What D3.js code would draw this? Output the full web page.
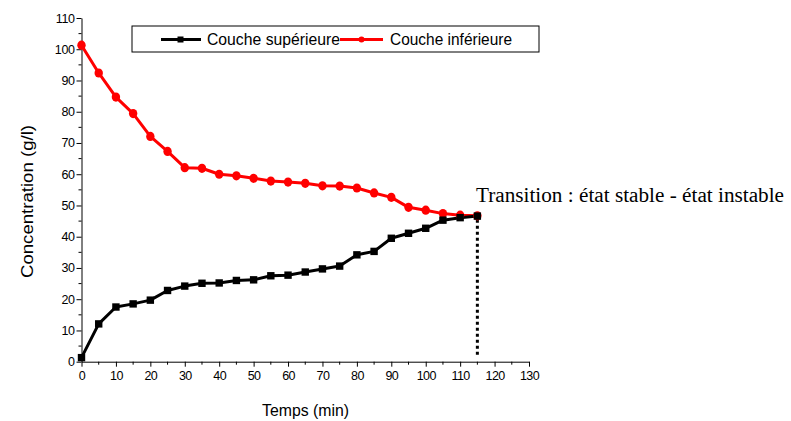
<!DOCTYPE html>
<html>
<head>
<meta charset="utf-8">
<script src="https://cdn.jsdelivr.net/npm/d3@7"></script>
<style>
html,body{margin:0;padding:0;background:#fff;}
svg{display:block;}
text{font-family:"Liberation Sans",Arial,sans-serif;fill:#000;}
text.serif{font-family:"Liberation Serif","Times New Roman",serif;}
</style>
</head>
<body>
<svg id="chart" width="791" height="421"></svg>
<script>
const times = [0,5,10,15,20,25,30,35,40,45,50,55,60,65,70,75,80,85,90,95,100,105,110,115];
const superieure = [1.3,12.1,17.5,18.5,19.7,22.8,24.2,25.1,25.2,26.0,26.2,27.5,27.7,28.7,29.7,30.6,34.2,35.3,39.5,41.1,42.7,45.3,46.1,46.6];
const inferieure = [101.3,92.4,84.7,79.4,72.1,67.3,62.1,61.9,60.0,59.5,58.7,57.8,57.5,57.1,56.3,56.2,55.6,54.0,52.6,49.4,48.5,47.4,46.9,46.7];
const xTicks = [0,10,20,30,40,50,60,70,80,90,100,110,120,130];
const yTicks = [0,10,20,30,40,50,60,70,80,90,100,110];
const seriesNames = ["Couche supérieure","Couche inférieure"];
const transitionTime = 115;
const annotation = "Transition : état stable - état instable";

const svg = d3.select("#chart");
const x = d3.scaleLinear().domain([0,130]).range([81.5,529]);
const y = d3.scaleLinear().domain([0,110]).range([361.7,18]);

const xMinor = d3.range(5,130,10);
const yMinor = d3.range(5,110,10);

const gx = svg.append("g").attr("transform",`translate(0,${y(0)})`);
gx.call(d3.axisBottom(x).tickValues(xTicks).tickSize(5).tickSizeOuter(0).tickPadding(4));
gx.selectAll(".minor").data(xMinor).enter().append("line")
  .attr("x1",d=>x(d)).attr("x2",d=>x(d)).attr("y1",0).attr("y2",3).attr("stroke","#000");
gx.selectAll(".tick text").style("font-size","12.5px").style("letter-spacing","-0.6px");

const gy = svg.append("g").attr("transform",`translate(${x(0)},0)`);
gy.call(d3.axisLeft(y).tickValues(yTicks).tickSize(5).tickSizeOuter(0).tickPadding(2));
gy.selectAll(".minor").data(yMinor).enter().append("line")
  .attr("y1",d=>y(d)).attr("y2",d=>y(d)).attr("x1",0).attr("x2",-3).attr("stroke","#000");
gy.selectAll(".tick text").style("font-size","12.5px").style("letter-spacing","-0.4px");
svg.selectAll(".domain").attr("stroke","#000");

svg.append("text").attr("x",262).attr("y",415.5).style("font-size","16.5px")
  .attr("textLength",87).attr("lengthAdjust","spacingAndGlyphs").text("Temps (min)");
svg.append("text").attr("transform","translate(32.5,278) rotate(-90)").style("font-size","16.5px")
  .attr("textLength",153).attr("lengthAdjust","spacingAndGlyphs").text("Concentration (g/l)");

svg.append("line").attr("x1",x(transitionTime)).attr("x2",x(transitionTime))
  .attr("y1",y(inferieure[inferieure.length-1])+4).attr("y2",356)
  .attr("stroke","#000").attr("stroke-width",3).attr("stroke-dasharray","3,3");

const line = d3.line().x(d=>x(d[0])).y(d=>y(d[1]));
const dataS = times.map((t,i)=>[t,superieure[i]]);
const dataI = times.map((t,i)=>[t,inferieure[i]]);

svg.append("path").datum(dataI).attr("d",line).attr("fill","none").attr("stroke","#ff0000").attr("stroke-width",3).attr("stroke-linejoin","round");
svg.append("path").datum(dataS).attr("d",line).attr("fill","none").attr("stroke","#000").attr("stroke-width",3).attr("stroke-linejoin","round");

svg.selectAll(".ptI").data(dataI).enter().append("ellipse")
  .attr("cx",d=>x(d[0])).attr("cy",d=>y(d[1])).attr("rx",4.2).attr("ry",4.6).attr("fill","#ff0000");
svg.selectAll(".ptS").data(dataS).enter().append("rect")
  .attr("x",d=>x(d[0])-3.7).attr("y",d=>y(d[1])-3.7).attr("width",7.4).attr("height",7.4).attr("fill","#000");

svg.append("text").attr("class","serif").attr("x",476).attr("y",201.7).style("font-size","20px")
  .attr("textLength",308).attr("lengthAdjust","spacingAndGlyphs").text(annotation);

const lg = svg.append("g");
lg.append("rect").attr("x",132).attr("y",26).attr("width",407).attr("height",26).attr("fill","#fff").attr("stroke","#000").attr("stroke-width",1);
lg.append("line").attr("x1",161).attr("x2",201).attr("y1",39.5).attr("y2",39.5).attr("stroke","#000").attr("stroke-width",3);
lg.append("rect").attr("x",177.5).attr("y",36.5).attr("width",6).attr("height",6).attr("fill","#000");
lg.append("text").attr("x",207).attr("y",44.7).style("font-size","16.5px").attr("textLength",133).attr("lengthAdjust","spacingAndGlyphs").text(seriesNames[0]);
lg.append("line").attr("x1",340).attr("x2",383).attr("y1",39.5).attr("y2",39.5).attr("stroke","#ff0000").attr("stroke-width",3);
lg.append("circle").attr("cx",361.5).attr("cy",39.5).attr("r",3).attr("fill","#ff0000");
lg.append("text").attr("x",390).attr("y",44.7).style("font-size","16.5px").attr("textLength",122).attr("lengthAdjust","spacingAndGlyphs").text(seriesNames[1]);
</script>
</body>
</html>
